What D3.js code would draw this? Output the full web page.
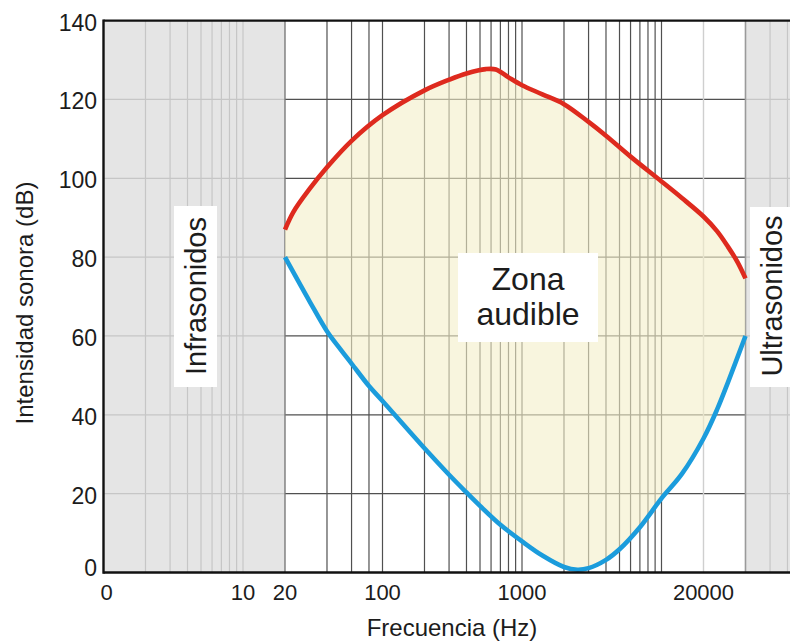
<!DOCTYPE html>
<html><head><meta charset="utf-8">
<script src="https://cdn.jsdelivr.net/npm/d3@7"></script>
<style>
body{margin:0;background:#fff}
svg{display:block}
text{font-family:"Liberation Sans",Arial,Helvetica,sans-serif;fill:#1c1c1c}
</style>
</head><body><svg id="c" width="790" height="643"></svg>
<script>
// ---- data ----
const upperFreq = [20, 23, 30, 40, 60, 100, 200, 300, 400, 550, 650, 800, 1000, 1400, 2000, 3000, 4000, 6000, 10000, 14000, 20000, 25000, 30000, 35000, 40000];
const upperDb   = [87, 91.5, 97.3, 102.8, 109.5, 116, 122.3, 125, 126.6, 127.7, 127.6, 125.6, 123.6, 121.3, 118.8, 114.3, 110.8, 105.5, 99.2, 95, 90.3, 86.6, 82.6, 78.8, 74.6];
const lowerFreq = [20, 30, 40, 50, 60, 80, 100, 200, 300, 400, 500, 700, 1000, 1400, 2000, 2500, 3000, 4000, 5000, 7000, 10000, 14000, 20000, 25000, 30000, 40000];
const lowerDb   = [80, 68.8, 61.2, 56.6, 53, 47.3, 43.5, 31.5, 24.8, 20.3, 16.9, 12.1, 7.9, 4.3, 1.4, 0.7, 1.1, 3.2, 5.9, 11.5, 18.8, 25, 34, 41.3, 48.3, 60];

const xTickValues = [1, 10, 20, 100, 1000, 20000];
const xTickLabels = ["0", "10", "20", "100", "1000", "20000"];
const yTickValues = [0, 20, 40, 60, 80, 100, 120, 140];
const hGridValues = [20, 40, 60, 80, 100, 120];
const infraGrid   = [2, 3, 4, 5, 6, 7, 8, 9, 10];
const audibleGrid = [40, 60, 80, 100, 200, 300, 400, 500, 600, 700, 800, 900, 1000,
                     2000, 3000, 4000, 5000, 6000, 7000, 8000, 9000, 10000];
const faintGrid   = [20000];
const ultraGrid   = [60000, 80000];
const infraLimit  = 20;
const ultraLimit  = 40000;
const regionNames = ["Infrasonidos", "Ultrasonidos"];
const zoneLines   = ["Zona", "audible"];
const xTitle = "Frecuencia (Hz)";
const yTitle = "Intensidad sonora (dB)";

// ---- layout ----
const pLeft = 103.5, pRight = 790, pTop = 20.6, pBottom = 572.5;
const x = d3.scaleLog().domain([1, 1e5]).range([pLeft, 801]);
const y = d3.scaleLinear().domain([0, 140]).range([pBottom, pTop]);

const svg = d3.select("#c");
const defs = svg.append("defs");
defs.append("clipPath").attr("id", "plot").append("rect")
  .attr("x", pLeft).attr("y", pTop).attr("width", pRight - pLeft).attr("height", pBottom - pTop);

const g = svg.append("g").attr("clip-path", "url(#plot)");

// grey regions
g.append("rect").attr("x", x(1)).attr("y", pTop).attr("width", x(infraLimit) - x(1))
  .attr("height", pBottom - pTop).attr("fill", "#e5e5e5");
g.append("rect").attr("x", x(ultraLimit)).attr("y", pTop).attr("width", pRight - x(ultraLimit) + 20)
  .attr("height", pBottom - pTop).attr("fill", "#e5e5e5");

const light = "#c6c6c6", dark = "#505050";
// horizontal grid
hGridValues.forEach(v => {
  g.append("line").attr("x1", x(1)).attr("x2", x(infraLimit)).attr("y1", y(v)).attr("y2", y(v))
    .attr("stroke", light).attr("stroke-width", 1.2);
  g.append("line").attr("x1", x(infraLimit)).attr("x2", x(ultraLimit)).attr("y1", y(v)).attr("y2", y(v))
    .attr("stroke", dark).attr("stroke-width", 1.2);
  g.append("line").attr("x1", x(ultraLimit)).attr("x2", pRight).attr("y1", y(v)).attr("y2", y(v))
    .attr("stroke", light).attr("stroke-width", 1.2);
});
// vertical grid
function vlines(vals, color, w) {
  g.selectAll(null).data(vals).enter().append("line")
    .attr("x1", d => x(d)).attr("x2", d => x(d)).attr("y1", pTop).attr("y2", pBottom)
    .attr("stroke", color).attr("stroke-width", w);
}
vlines(infraGrid, light, 1.2);
vlines(audibleGrid, dark, 1.2);
vlines(faintGrid, "#cfcfcf", 1.4);
vlines(ultraGrid, light, 1.2);
vlines([infraLimit], "#7a7a7a", 1.4);
vlines([ultraLimit], "#9a9a9a", 1.6);

// fill between curves
const upperPts = upperFreq.map((f, i) => [f, upperDb[i]]);
const lowerPts = lowerFreq.map((f, i) => [f, lowerDb[i]]);
const curve = d3.curveCatmullRom.alpha(0.5);
defs.append("clipPath").attr("id", "aboveLower").append("path")
  .attr("d", d3.area().x(d => x(d[0])).y0(y(150)).y1(d => y(d[1])).curve(curve)(lowerPts));
g.append("path")
  .attr("d", d3.area().x(d => x(d[0])).y0(y(-10)).y1(d => y(d[1])).curve(curve)(upperPts))
  .attr("clip-path", "url(#aboveLower)")
  .attr("fill", "#f4efc8").attr("fill-opacity", 0.6);

// curves
const line = d3.line().x(d => x(d[0])).y(d => y(d[1])).curve(curve);
g.append("path").attr("d", line(upperPts)).attr("fill", "none")
  .attr("stroke", "#de2a1e").attr("stroke-width", 4.6).attr("stroke-linecap", "butt");
g.append("path").attr("d", line(lowerPts)).attr("fill", "none")
  .attr("stroke", "#1b9cdc").attr("stroke-width", 4.6).attr("stroke-linecap", "butt");

// frame
svg.append("line").attr("x1", pLeft).attr("x2", pRight).attr("y1", pTop).attr("y2", pTop)
  .attr("stroke", "#111").attr("stroke-width", 2.4);
svg.append("line").attr("x1", pLeft).attr("x2", pRight).attr("y1", pBottom).attr("y2", pBottom)
  .attr("stroke", "#111").attr("stroke-width", 2.4);
svg.append("line").attr("x1", pLeft).attr("x2", pLeft).attr("y1", pTop - 1.2).attr("y2", pBottom + 1.2)
  .attr("stroke", "#111").attr("stroke-width", 2.4);

// region labels with white boxes
function vLabel(text, baselineX, cy, box) {
  svg.append("rect").attr("x", box[0]).attr("y", box[1]).attr("width", box[2]).attr("height", box[3])
    .attr("fill", "#fff");
  svg.append("text").attr("transform", `translate(${baselineX},${cy}) rotate(-90)`)
    .attr("text-anchor", "middle").attr("font-size", 29).text(text);
}
vLabel(regionNames[0], 206, 296, [174, 206, 43, 181]);
vLabel(regionNames[1], 782, 296, [750, 207, 45, 180]);

svg.append("rect").attr("x", 458).attr("y", 253).attr("width", 140).attr("height", 89).attr("fill", "#fff");
svg.append("text").attr("x", 528).attr("y", 290).attr("text-anchor", "middle").attr("font-size", 32).text(zoneLines[0]);
svg.append("text").attr("x", 528).attr("y", 325).attr("text-anchor", "middle").attr("font-size", 32).text(zoneLines[1]);

// y ticks
svg.selectAll(null).data(yTickValues).enter().append("text")
  .attr("x", 97).attr("y", d => d === 0 ? y(d) + 3 : y(d) + 10)
  .attr("text-anchor", "end").attr("font-size", 23).text(d => d);
// x ticks
svg.selectAll(null).data(xTickValues).enter().append("text")
  .attr("x", (d, i) => x(d) + (i === 0 ? 3 : 0)).attr("y", 600)
  .attr("text-anchor", "middle").attr("font-size", 22).text((d, i) => xTickLabels[i]);

// axis titles
svg.append("text").attr("x", 452).attr("y", 636).attr("text-anchor", "middle")
  .attr("font-size", 24).text(xTitle);
svg.append("text").attr("transform", "translate(33,303) rotate(-90)").attr("text-anchor", "middle")
  .attr("font-size", 24).text(yTitle);
</script>
</body></html>
